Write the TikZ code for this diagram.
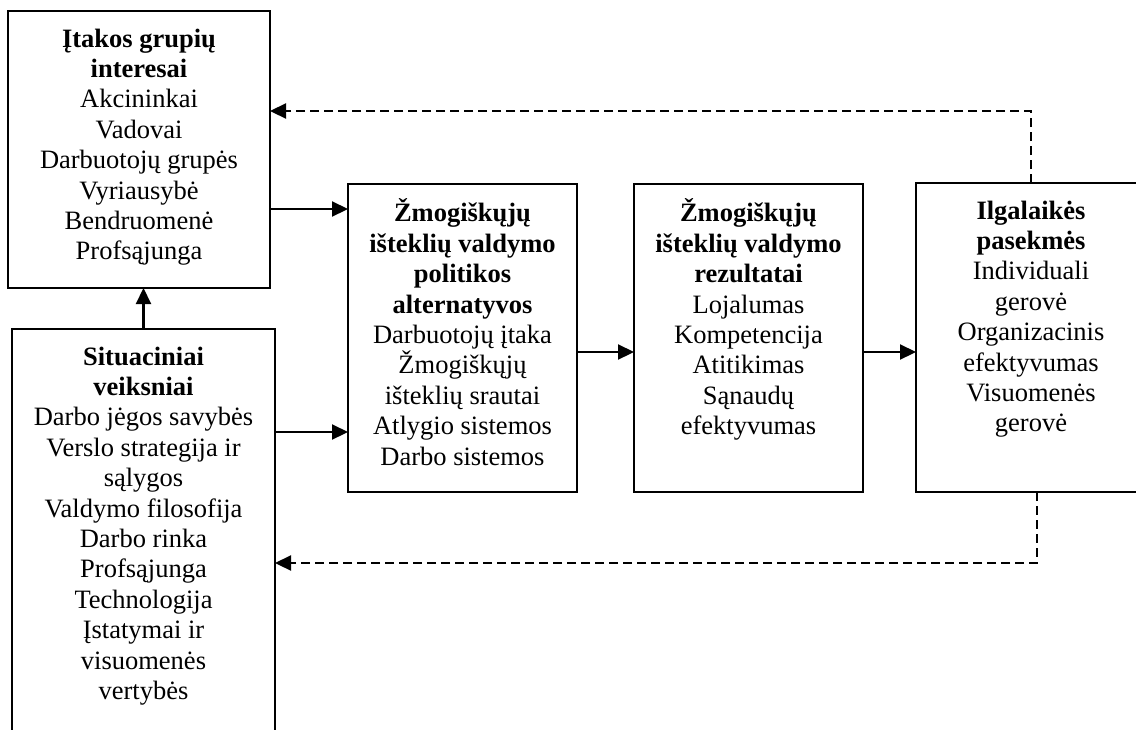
\documentclass[tikz,border=0pt]{standalone}
\usepackage{fontspec}
\setmainfont{Liberation Serif}
\usetikzlibrary{arrows.meta}
\tikzset{
  box/.style={draw=black, line width=2.4pt, rectangle, inner sep=0pt, outer sep=0pt},
  boxtext/.style={anchor=north, inner sep=0pt, align=center,
    font=\fontsize{26.5}{30.4}\selectfont, yshift=-14.7pt},
  arr/.style={line width=2.2pt, -{Triangle[length=16pt,width=15pt]}},
  dsh/.style={line width=2.2pt, dash pattern=on 9pt off 5pt,
    -{Triangle[length=16pt,width=15pt]}},
}
\begin{document}
\begin{tikzpicture}[x=1pt,y=-1pt]
\clip (0,0) rectangle (1136,729);
\fill[white] (0,0) rectangle (1136,729);

% boxes
\node[box, minimum width=262pt, minimum height=277pt] (infl) at (139,149.5) {};
\node[box, minimum width=263pt, minimum height=431pt] (sit) at (143.5,544.5) {};
\node[box, minimum width=229pt, minimum height=308pt] (pol) at (462.5,338) {};
\node[box, minimum width=229pt, minimum height=308pt] (res) at (748.5,338) {};
\node[box, minimum width=230pt, minimum height=309pt] (cons) at (1031,337.5) {};

% texts
\node[boxtext] (inflT) at (infl.north) {\strut\textbf{Įtakos grupių}\\\textbf{interesai}\\Akcininkai\\Vadovai\\Darbuotojų grupės\\Vyriausybė\\Bendruomenė\\Profsąjunga};
\node[boxtext] (sitT) at (sit.north) {\strut\textbf{Situaciniai}\\\textbf{veiksniai}\\Darbo jėgos savybės\\Verslo strategija ir\\sąlygos\\Valdymo filosofija\\Darbo rinka\\Profsąjunga\\Technologija\\Įstatymai ir\\visuomenės\\vertybės};
\node[boxtext] (polT) at (pol.north) {\strut\textbf{Žmogiškųjų}\\\textbf{išteklių valdymo}\\\textbf{politikos}\\\textbf{alternatyvos}\\Darbuotojų įtaka\\Žmogiškųjų\\išteklių srautai\\Atlygio sistemos\\Darbo sistemos};
\node[boxtext] (resT) at (res.north) {\strut\textbf{Žmogiškųjų}\\\textbf{išteklių valdymo}\\\textbf{rezultatai}\\Lojalumas\\Kompetencija\\Atitikimas\\Sąnaudų\\efektyvumas};
\node[boxtext] (consT) at (cons.north) {\strut\textbf{Ilgalaikės}\\\textbf{pasekmės}\\Individuali\\gerovė\\Organizacinis\\efektyvumas\\Visuomenės\\gerovė};

% connector end points
\coordinate (inflOut) at ([yshift=-59.5pt]infl.east);
\coordinate (sitOut) at ([yshift=112.5pt]sit.east);
\coordinate (polOut) at ([yshift=-14pt]pol.east);
\coordinate (resOut) at ([yshift=-14pt]res.east);
\coordinate (inflBack) at ([yshift=38.5pt]infl.east);
\coordinate (sitBack) at ([yshift=-18.5pt]sit.east);
\coordinate (consBottom) at ([xshift=6pt]cons.south);

% solid connectors
\draw[arr] (sit.north) -- (sit.north |- infl.south);
\draw[arr] (inflOut) -- (inflOut -| pol.west);
\draw[arr] (sitOut) -- (sitOut -| pol.west);
\draw[arr] (polOut) -- (polOut -| res.west);
\draw[arr] (resOut) -- (resOut -| cons.west);

% feedback loops
\draw[dsh] (cons.north) |- (inflBack);
\draw[dsh] (consBottom) |- (sitBack);
\end{tikzpicture}
\end{document}
